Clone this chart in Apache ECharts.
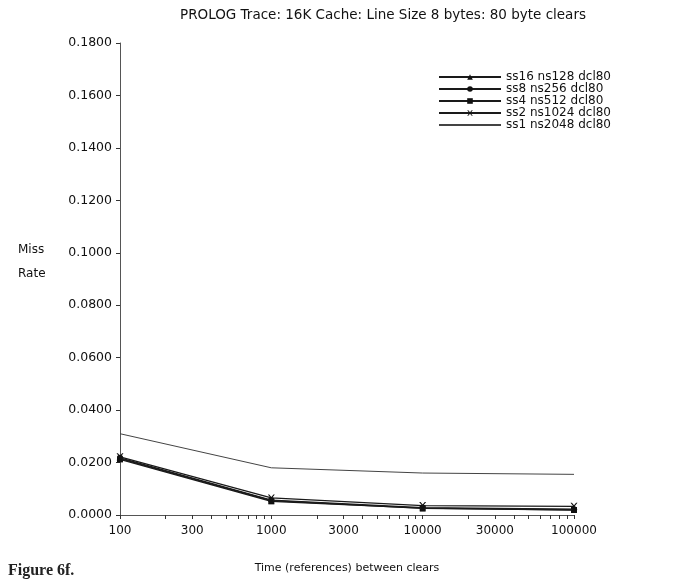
<!DOCTYPE html>
<html><head><meta charset="utf-8">
<script src="https://cdn.jsdelivr.net/npm/echarts@6/dist/echarts.min.js"></script>
<style>html,body{margin:0;padding:0;background:#fff}#c{width:686px;height:583px}</style>
</head><body><div id="c"></div>
<script>
const xValues = [100, 1000, 10000, 100000];
const seriesNames = ['ss16 ns128 dcl80','ss8 ns256 dcl80','ss4 ns512 dcl80','ss2 ns1024 dcl80','ss1 ns2048 dcl80'];
const ss16 = [0.0215, 0.0055, 0.0025, 0.0020];
const ss8  = [0.0218, 0.0057, 0.0028, 0.0022];
const ss4  = [0.0212, 0.0052, 0.0026, 0.0019];
const ss2  = [0.0222, 0.0065, 0.0036, 0.0033];
const ss1  = [0.0310, 0.0180, 0.0160, 0.0155];
const xTickLabels = [100, 300, 1000, 3000, 10000, 30000, 100000];
const xTicks = [100,200,300,400,500,600,700,800,900,1000,2000,3000,4000,5000,6000,7000,8000,9000,10000,20000,30000,40000,50000,60000,70000,80000,90000,100000];

const font = 'DejaVu Sans, Liberation Sans, sans-serif';
const xMark = 'path://M0,0L2,0L5,3.5L8,0L10,0L6,5L10,10L8,10L5,6.5L2,10L0,10L4,5Z';
const symbols = ['triangle','circle','rect', xMark, 'none'];
const allData = [ss16, ss8, ss4, ss2, ss1];
const series = allData.map((vals, i) => ({
  name: seriesNames[i],
  type: 'line',
  data: xValues.map((x, j) => [x, vals[j]]),
  symbol: symbols[i],
  symbolSize: i === 3 ? 7 : 6,
  lineStyle: {color: i === 4 ? '#444' : '#1a1a1a', width: i === 4 ? 1 : 1.3},
  itemStyle: {color: '#111'},
  z: 5 - i
}));

const chart = echarts.init(document.getElementById('c'), null, {renderer: 'canvas'});
chart.setOption({
  animation: false,
  backgroundColor: '#fff',
  title: [
    {text: 'PROLOG Trace: 16K Cache: Line Size 8 bytes: 80 byte clears', left: 378, top: 3, textAlign: 'center',
     textStyle: {fontFamily: font, fontSize: 13.5, fontWeight: 'normal', color: '#111'}},
    {text: 'Miss\nRate', left: 13, top: 233,
     textStyle: {fontFamily: font, fontSize: 12, fontWeight: 'normal', color: '#111', lineHeight: 24}},
    {text: 'Figure 6f.', left: 3, top: 558,
     textStyle: {fontFamily: 'Liberation Serif, Times New Roman, serif', fontSize: 16, fontWeight: 'bold', color: '#222'}}
  ],
  legend: {
    left: 433, top: 66, orient: 'vertical', itemGap: 0, itemWidth: 62, itemHeight: 7,
    textStyle: {fontFamily: font, fontSize: 12, color: '#111', lineHeight: 12},
    data: seriesNames.map((n, i) => i === 4
      ? {name: n, itemStyle: {color: 'rgba(0,0,0,0)', borderWidth: 0, opacity: 0}}
      : {name: n})
  },
  grid: {left: 120, right: 112, top: 43, bottom: 68},
  xAxis: {
    type: 'log', logBase: 10, min: 100, max: 100000,
    name: 'Time (references) between clears', nameLocation: 'middle', nameGap: 48,
    nameTextStyle: {fontFamily: font, fontSize: 11, color: '#111'},
    axisLine: {lineStyle: {color: '#555', width: 1}},
    axisTick: {show: true, length: 4, customValues: xTicks, lineStyle: {color: '#333'}},
    axisLabel: {customValues: xTickLabels, fontFamily: font, fontSize: 12, color: '#111', margin: 10,
      formatter: v => String(Math.round(v))},
    splitLine: {show: false}, minorTick: {show: false}
  },
  yAxis: {
    type: 'value', min: 0, max: 0.18, interval: 0.02,
    axisLine: {show: true, lineStyle: {color: '#555', width: 1}},
    axisTick: {show: true, length: 4, lineStyle: {color: '#333'}},
    axisLabel: {fontFamily: font, fontSize: 12.5, color: '#111', margin: 8, formatter: v => v.toFixed(4)},
    splitLine: {show: false}
  },
  series: series
});
</script></body></html>
